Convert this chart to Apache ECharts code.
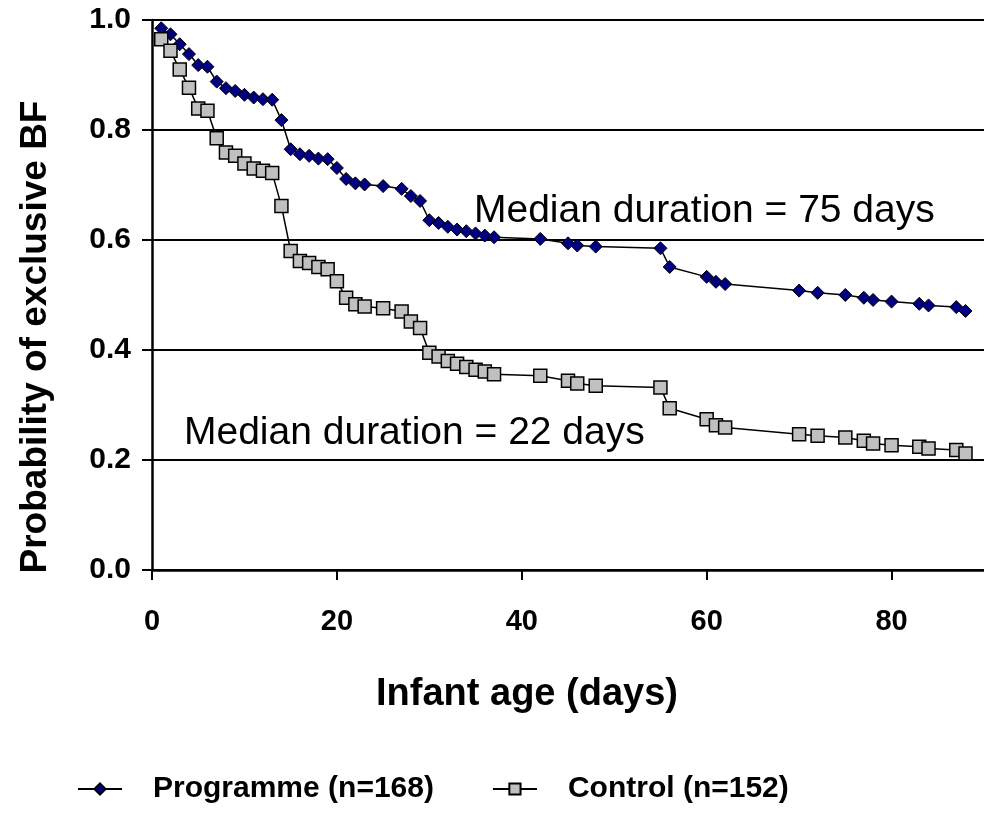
<!DOCTYPE html>
<html>
<head>
<meta charset="utf-8">
<script src="https://cdn.jsdelivr.net/npm/echarts@6/dist/echarts.min.js"></script>
<style>
html,body{margin:0;padding:0;background:#fff;}
#chart{width:984px;height:814px;}
</style>
</head>
<body>
<div id="chart"></div>
<script>
// Infant age (days) at which events occurred
const days = [1,2,3,4,5,6,7,8,9,10,11,12,13,14,15,16,17,18,19,20,21,22,23,25,27,28,29,30,31,32,33,34,35,36,37,42,45,46,48,55,56,60,61,62,70,72,75,77,78,80,83,84,87,88];
// Probability of exclusive BF
const programmeVals = [0.985,0.974,0.956,0.938,0.918,0.915,0.888,0.876,0.871,0.864,0.859,0.856,0.855,0.818,0.765,0.756,0.753,0.748,0.747,0.731,0.711,0.703,0.701,0.698,0.693,0.680,0.671,0.636,0.631,0.624,0.619,0.616,0.612,0.608,0.605,0.602,0.594,0.590,0.588,0.585,0.551,0.533,0.524,0.520,0.508,0.504,0.500,0.495,0.491,0.488,0.484,0.481,0.478,0.471];
const controlVals = [0.965,0.944,0.910,0.877,0.839,0.835,0.785,0.759,0.753,0.739,0.730,0.726,0.722,0.662,0.580,0.562,0.558,0.551,0.547,0.525,0.495,0.483,0.479,0.476,0.470,0.452,0.440,0.395,0.388,0.380,0.375,0.369,0.364,0.361,0.356,0.353,0.344,0.339,0.335,0.332,0.294,0.274,0.263,0.259,0.247,0.244,0.241,0.235,0.230,0.227,0.224,0.221,0.218,0.212];
const seriesNames = ['Programme (n=168)', 'Control (n=152)'];
const annotations = ['Median duration = 75 days', 'Median duration = 22 days'];
const xTitle = 'Infant age (days)';
const yTitle = 'Probability of exclusive BF';

const FONT = '"Liberation Sans", Arial, Helvetica, sans-serif';
const chart = echarts.init(document.getElementById('chart'), null, {renderer: 'canvas'});

const option = {
  backgroundColor: '#ffffff',
  animation: false,
  grid: { left: 152, top: 20, width: 839, bottom: 244, containLabel: false },
  xAxis: {
    type: 'value', min: 0, max: 90, interval: 20,
    name: xTitle, nameLocation: 'middle', nameGap: 106,
    nameTextStyle: { fontFamily: FONT, fontWeight: 'bold', fontSize: 38, color: '#000', padding: [0, 82, 0, 0] },
    axisLine: { show: true, onZero: false, lineStyle: { color: '#000', width: 2.5 } },
    axisTick: { show: true, inside: false, length: 10, lineStyle: { color: '#000', width: 2 } },
    axisLabel: { fontFamily: FONT, fontWeight: 'bold', fontSize: 29, color: '#000', margin: 37, showMaxLabel: false },
    splitLine: { show: false }
  },
  yAxis: {
    type: 'value', min: 0, max: 1, interval: 0.2,
    name: yTitle, nameLocation: 'middle', nameGap: 98, nameRotate: 90,
    nameTextStyle: { fontFamily: FONT, fontWeight: 'bold', fontSize: 37, color: '#000', padding: [0, 84, 0, 0] },
    axisLine: { show: true, lineStyle: { color: '#000', width: 2.5 } },
    axisTick: { show: true, inside: false, length: 10, lineStyle: { color: '#000', width: 2 } },
    axisLabel: { fontFamily: FONT, fontWeight: 'bold', fontSize: 30, color: '#000', margin: 21,
      formatter: v => v.toFixed(1) },
    splitLine: { show: true, lineStyle: { color: '#000', width: 2 } }
  },
  legend: {
    left: 72, top: 769,
    itemWidth: 44, itemHeight: 14, itemGap: 58,
    textStyle: { fontFamily: FONT, fontWeight: 'bold', fontSize: 30, color: '#000', padding: [0, 0, 0, 26] },
    data: seriesNames
  },
  series: [
    {
      name: seriesNames[0], type: 'line',
      data: days.map((d, i) => [d, programmeVals[i]]),
      symbol: 'diamond', symbolSize: 13,
      itemStyle: { color: '#000080', borderColor: '#000', borderWidth: 1 },
      lineStyle: { color: '#000', width: 1.5 },
      z: 3
    },
    {
      name: seriesNames[1], type: 'line',
      data: days.map((d, i) => [d, controlVals[i]]),
      symbol: 'rect', symbolSize: 13,
      itemStyle: { color: '#c0c0c0', borderColor: '#000', borderWidth: 1.5 },
      lineStyle: { color: '#000', width: 1.5 },
      z: 4
    }
  ],
  graphic: [
    { type: 'text', left: 474, top: 192, z: 10,
      style: { text: annotations[0], fontFamily: FONT, fontSize: 39, fill: '#000' } },
    { type: 'text', left: 184, top: 414, z: 10,
      style: { text: annotations[1], fontFamily: FONT, fontSize: 39, fill: '#000' } }
  ]
};
chart.setOption(option);
</script>
</body>
</html>
